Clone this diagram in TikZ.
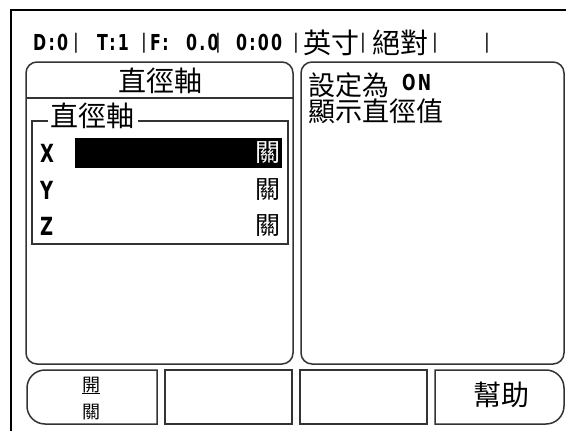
\documentclass[tikz,border=0pt]{standalone}
\usepackage{fontspec}
\setmainfont{DejaVu Sans}
\newfontfamily\cjk{Noto Sans CJK TC}
\newfontfamily\lcd[FakeStretch=0.72,LetterSpace=10]{DejaVu Sans}
\begin{document}
\begin{tikzpicture}[x=1pt,y=-1pt,
  frame/.style={line width=2.6pt,black},
  panel/.style={draw=black!80,line width=1.5pt},
  gbox/.style={draw=black!80,line width=1.3pt},
  st/.style={inner sep=0,anchor=west,font=\lcd\bfseries\fontsize{22}{22}\selectfont},
  axis/.style={inner sep=0,anchor=west,font=\lcd\bfseries\fontsize{25}{25}\selectfont},
  sepbar/.style={inner sep=0,text=black!85,font=\fontsize{20}{20}\selectfont},
  cj/.style={inner sep=0,font=\cjk\fontsize{28}{28}\selectfont},
  cjs/.style={inner sep=0,font=\cjk\fontsize{18}{18}\selectfont},
  cjr/.style={inner sep=0,anchor=east,font=\cjk\fontsize{25}{25}\selectfont},
]
\useasboundingbox (0,0) rectangle (566,431);
% outer frame (only top and left visible)
\draw[frame] (11,431) -- (11,10) -- (566,10);

% status bar
\node[st] (s1) at (33,42) {D:0};
\node[sepbar] (b1) at (76,43) {|};
\node[st] (s2) at (97,42) {T:1};
\node[sepbar] (b2) at (144,43) {|};
\node[st] (s3) at (150,42) {F:};
\node[st] (s4) at (186,42) {0.0};
\node[sepbar] (b3) at (218,43) {|};
\node[st] (s5) at (236,42) {0:00};
\node[sepbar] (b4) at (296,43) {|};
\node[cj,anchor=west] (s6) at (303,43) {英寸};
\node[sepbar] (b5) at (363,43) {|};
\node[cj,anchor=west] (s7) at (372,43) {絕對};
\node[sepbar] (b6) at (435,43) {|};
\node[sepbar] (b7) at (487,43) {|};

% left panel
\draw[panel,rounded corners=11pt] (26,62) rectangle (293,364);
\node[cj] (lt) at (160,81) {直徑軸};
\draw[panel] (26,98) -- (293,98);
\node[cj,anchor=west] (gt) at (50,116) {直徑軸};
\draw[gbox] (48,121) -- (32,121) -- (32,244) -- (288,244) -- (288,121) -- (138,121);
\fill[black] (75,138) rectangle (282,168);
\node[axis] (ax) at (40,153) {X};
\node[axis] (ay) at (40,190) {Y};
\node[axis] (az) at (40,226) {Z};
\node[cjr,text=white] (vx) at (281,153) {關};
\node[cjr] (vy) at (281,190) {關};
\node[cjr] (vz) at (281,226) {關};

% right panel
\draw[panel,rounded corners=11pt] (301,62) rectangle (564,364);
\node[inner sep=0,anchor=base west,align=left,
      font={\cjk\fontsize{27}{26}\selectfont\lineskiplimit=-50pt}] (r1) at (308,121.5)
  {設定為\hspace{13pt}\raisebox{5pt}{\lcd\bfseries\fontsize{22}{22}\selectfont ON}\\顯示直徑值};

% soft keys
\draw[panel] (100,370) [rounded corners=18pt] -- (27,370) -- (27,424) -- (100,424) [sharp corners] -- (157,424) -- (157,370) -- cycle;
\draw[panel] (165,370) rectangle (292,424);
\draw[panel] (300,370) rectangle (427,424);
\draw[panel] (500,370) [rounded corners=18pt] -- (564,370) -- (564,424) -- (500,424) [sharp corners] -- (435,424) -- (435,370) -- cycle;
\node[cjs] (k1a) at (91,385) {開};
\node[cjs] (k1b) at (91,412) {關};
\draw[line width=1pt] (k1a.south west) -- (k1a.south east);
\node[cj] (k4) at (501,395) {幫助};
\end{tikzpicture}
\end{document}
